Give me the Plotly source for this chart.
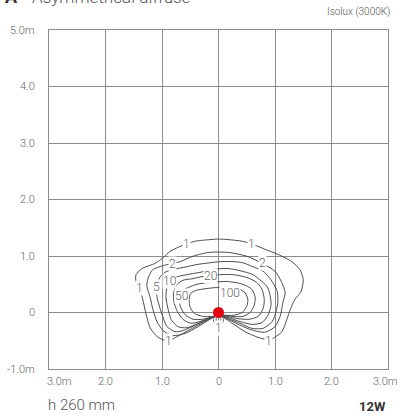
import plotly.graph_objects as go

# ---------------- data (metres) ----------------
x_ticks = [-3, -2, -1, 0, 1, 2, 3]
x_tick_text = ["3.0m", "2.0", "1.0", "0", "1.0", "2.0", "3.0m"]
y_ticks = [5, 4, 3, 2, 1, 0, -1]
y_tick_text = ["5.0m", "4.0", "3.0", "2.0", "1.0", "0", "-1.0m"]

source_x = [0.0]
source_y = [0.0]

iso1_x = [0.0, -0.24, -0.50, -0.72, -0.89, -1.07, -1.21, -1.28, -1.34, -1.39, -1.46, -1.46, -1.35, -1.12, -0.98, -0.86, -0.68, -0.42, -0.15, 0.0,
          0.17, 0.43, 0.65, 0.82, 1.05, 1.30, 1.44, 1.50, 1.46, 1.35, 1.27, 1.21, 1.12, 0.91, 0.70, 0.47, 0.24, 0.0]
iso1_y = [-0.05, -0.16, -0.30, -0.42, -0.50, -0.44, -0.27, -0.04, 0.23, 0.41, 0.55, 0.67, 0.78, 0.87, 0.97, 1.08, 1.17, 1.26, 1.29, 1.30,
          1.29, 1.26, 1.19, 1.12, 1.03, 0.90, 0.76, 0.58, 0.37, 0.23, 0.05, -0.12, -0.34, -0.48, -0.44, -0.34, -0.19, -0.05]

iso2_x = [0.0, -0.15, -0.36, -0.59, -0.82, -0.98, -1.09, -1.16, -1.21, -1.27, -1.23, -1.16, -0.98, -0.68, -0.47, -0.20, 0.0,
          0.20, 0.52, 0.77, 1.00, 1.12, 1.18, 1.14, 1.09, 1.00, 0.82, 0.56, 0.29, 0.0]
iso2_y = [-0.05, -0.12, -0.25, -0.37, -0.41, -0.32, -0.16, 0.05, 0.27, 0.48, 0.65, 0.76, 0.83, 0.90, 0.99, 1.06, 1.07,
          1.06, 0.99, 0.87, 0.73, 0.53, 0.35, 0.18, -0.07, -0.25, -0.35, -0.30, -0.18, -0.05]

iso5_x = [0.0, -0.19, -0.42, -0.63, -0.77, -0.91, -0.98, -1.04, -1.09, -1.09, -1.04, -0.95, -0.81, -0.56, -0.38, -0.15, 0.03,
          0.26, 0.43, 0.61, 0.79, 0.88, 0.96, 1.04, 1.05, 1.02, 0.95, 0.79, 0.59, 0.38, 0.17, 0.0]
iso5_y = [-0.05, -0.12, -0.23, -0.32, -0.34, -0.25, -0.09, 0.09, 0.28, 0.46, 0.62, 0.71, 0.76, 0.81, 0.85, 0.88, 0.90,
          0.90, 0.88, 0.81, 0.73, 0.64, 0.53, 0.37, 0.19, 0.02, -0.16, -0.28, -0.28, -0.19, -0.11, -0.05]

iso10_x = [0.0, -0.15, -0.36, -0.56, -0.72, -0.84, -0.89, -0.93, -0.91, -0.86, -0.77, -0.56, -0.33, -0.10,
           0.15, 0.38, 0.61, 0.73, 0.86, 0.91, 0.93, 0.88, 0.77, 0.59, 0.38, 0.17, 0.0]
iso10_y = [-0.05, -0.11, -0.19, -0.27, -0.25, -0.12, 0.05, 0.27, 0.46, 0.55, 0.62, 0.67, 0.71, 0.76,
           0.78, 0.74, 0.67, 0.58, 0.46, 0.32, 0.14, -0.04, -0.18, -0.21, -0.16, -0.09, -0.05]

iso20_x = [0.0, -0.15, -0.33, -0.49, -0.63, -0.73, -0.79, -0.79, -0.73, -0.63, -0.45, -0.27, -0.15, 0.03,
           0.26, 0.50, 0.68, 0.77, 0.81, 0.79, 0.70, 0.54, 0.35, 0.15, 0.0]
iso20_y = [-0.05, -0.09, -0.16, -0.19, -0.12, 0.02, 0.19, 0.37, 0.50, 0.57, 0.60, 0.64, 0.65, 0.67,
           0.67, 0.62, 0.53, 0.41, 0.23, 0.07, -0.07, -0.12, -0.11, -0.07, -0.05]

iso50_x = [0.0, -0.15, -0.29, -0.45, -0.59, -0.68, -0.68, -0.63, -0.54, -0.38, -0.15,
           0.15, 0.43, 0.59, 0.65, 0.63, 0.56, 0.43, 0.26, 0.12, 0.0]
iso50_y = [-0.05, -0.09, -0.12, -0.12, -0.04, 0.12, 0.30, 0.39, 0.44, 0.50, 0.53,
           0.55, 0.50, 0.41, 0.27, 0.12, 0.00, -0.07, -0.07, -0.05, -0.05]

iso100_x = [0.0, -0.12, -0.27, -0.42, -0.50, -0.52, -0.49, -0.40, -0.24, -0.06,
            0.12, 0.35, 0.47, 0.52, 0.50, 0.42, 0.26, 0.12, 0.0]
iso100_y = [-0.05, -0.07, -0.07, -0.02, 0.09, 0.23, 0.34, 0.39, 0.42, 0.44,
            0.44, 0.42, 0.35, 0.23, 0.11, 0.00, -0.05, -0.05, -0.05]

# small downward lobe under the luminaire
lobe_x = [-0.05, -0.09, -0.07, 0.0, 0.07, 0.09, 0.05]
lobe_y = [-0.06, -0.13, -0.18, -0.20, -0.18, -0.13, -0.06]
lobe2_x = [-0.03, -0.04, 0.0, 0.04, 0.03]
lobe2_y = [-0.06, -0.14, -0.17, -0.14, -0.06]

contours = [
    (iso1_x, iso1_y), (iso2_x, iso2_y), (iso5_x, iso5_y), (iso10_x, iso10_y),
    (iso20_x, iso20_y), (iso50_x, iso50_y), (iso100_x, iso100_y),
]

label_text = ["1", "1", "1", "1", "1", "1", "2", "2", "5", "10", "20", "50", "100"]
label_x = [-0.56, 0.59, -1.39, -0.89, 0.88, 0.0, -0.81, 0.77, -1.09, -0.86, -0.15, -0.65, 0.20]
label_y = [1.22, 1.22, 0.44, -0.51, -0.51, -0.28, 0.85, 0.87, 0.46, 0.55, 0.65, 0.30, 0.35]

# ---------------- figure ----------------
fig = go.Figure()
line_col = "#4d4d4d"
for cx, cy in contours:
    fig.add_trace(go.Scatter(x=cx, y=cy, mode="lines",
                             line=dict(color=line_col, width=1, shape="spline", smoothing=0.7),
                             hoverinfo="skip", showlegend=False))
for cx, cy in [(lobe_x, lobe_y), (lobe2_x, lobe2_y)]:
    fig.add_trace(go.Scatter(x=cx, y=cy, mode="lines",
                             line=dict(color=line_col, width=0.8, shape="spline"),
                             hoverinfo="skip", showlegend=False))

fig.add_trace(go.Scatter(x=source_x, y=source_y, mode="markers",
                         marker=dict(color="#e3000f", size=11),
                         hoverinfo="skip", showlegend=False))

font_main = "Roboto, Liberation Sans, Arial, sans-serif"
ann = []
for t, x, y in zip(label_text, label_x, label_y):
    ann.append(dict(x=x, y=y, xref="x", yref="y", text=t, showarrow=False,
                    font=dict(family=font_main, size=12, color="#666666", weight=300),
                    bgcolor="white", borderpad=0))

x_shift = [10, 0, 0, 0, 0, 0, -3]
for v, t, s in zip(x_ticks, x_tick_text, x_shift):
    ann.append(dict(x=v, y=0, xref="x", yref="paper", text=t, showarrow=False,
                    yanchor="top", yshift=-4, xshift=s,
                    font=dict(family=font_main, size=11, color="#666666", weight=300)))
for v, t in zip(y_ticks, y_tick_text):
    ann.append(dict(x=0, y=v, xref="paper", yref="y", text=t, showarrow=False,
                    xanchor="right", xshift=-12,
                    font=dict(family=font_main, size=11, color="#666666", weight=300)))

ann += [
    dict(x=0, y=1.062, xref="paper", yref="paper", xanchor="left", yanchor="bottom", xshift=-46,
         text="<b>A</b>", showarrow=False,
         font=dict(family=font_main, size=18, color="#333333")),
    dict(x=0, y=1.062, xref="paper", yref="paper", xanchor="left", yanchor="bottom", xshift=-19,
         text="Asymmetrical diffuse", showarrow=False,
         font=dict(family=font_main, size=17, color="#555555", weight=300)),
    dict(x=1, y=1.053, xref="paper", yref="paper", xanchor="right", yanchor="middle", xshift=4,
         text="Isolux (3000K)", showarrow=False,
         font=dict(family=font_main, size=10, color="#555555", weight=300)),
    dict(x=0, y=-0.105, xref="paper", yref="paper", xanchor="left", yanchor="middle", xshift=-3,
         text="h 260 mm", showarrow=False,
         font=dict(family=font_main, size=15, color="#555555", weight=300)),
    dict(x=1, y=-0.11, xref="paper", yref="paper", xanchor="right", yanchor="middle",
         text="<b>12W</b>", showarrow=False,
         font=dict(family=font_main, size=13, color="#333333")),
]

grid_col = "#8c8c8c"
axis_common = dict(showgrid=True, gridcolor=grid_col, gridwidth=1.2, dtick=1, tick0=0,
                   showline=True, linecolor=grid_col, linewidth=1.2, mirror=True,
                   zeroline=False, showticklabels=False, ticks="", fixedrange=True)
fig.update_layout(
    width=400, height=417,
    margin=dict(l=49, r=12, t=30, b=48),
    plot_bgcolor="white", paper_bgcolor="white",
    xaxis=dict(range=[-3, 3], **axis_common),
    yaxis=dict(range=[-1, 5], **axis_common),
    annotations=ann,
    showlegend=False,
)
fig.write_html("out.html", config={"displayModeBar": False},
               post_script="document.body.style.margin='0';document.body.style.overflow='hidden';")
